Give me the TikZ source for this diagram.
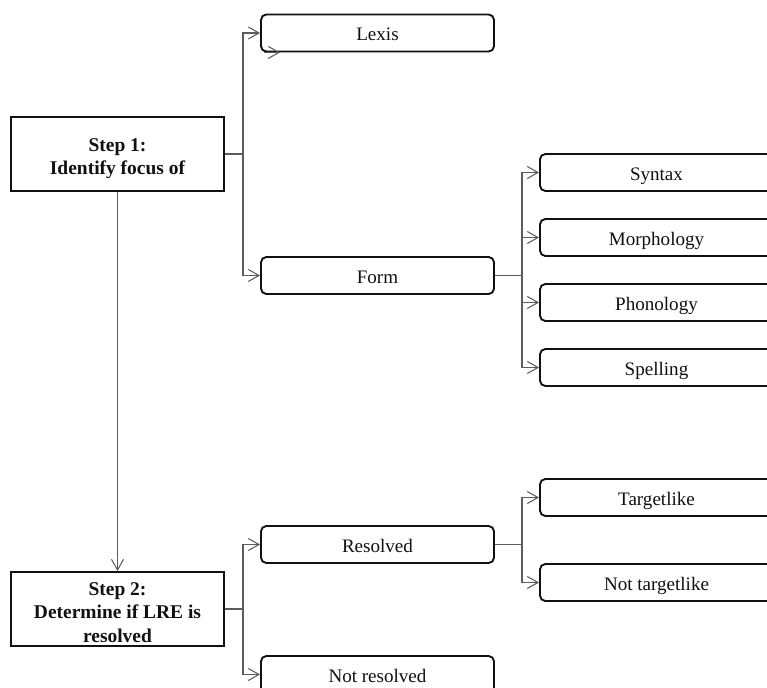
\documentclass[tikz,border=0pt]{standalone}
\usepackage{fontspec}
\setmainfont{Liberation Serif}
\usetikzlibrary{positioning, arrows.meta, calc}
\definecolor{ink}{HTML}{111111}
\definecolor{wire}{HTML}{5C5C5C}
\tikzset{
  every node/.style = {font=\fontsize{14.3}{17.5}\selectfont, text=ink},
  lrbase/.style  = {draw=ink, line width=1.4pt, fill=white, align=center, inner sep=0pt, text depth=0pt},
  lrstep/.style  = {lrbase, minimum width=159.75pt, minimum height=55.5pt, text height=#1,
                    font=\fontsize{14.6}{17.6}\selectfont\bfseries},
  lropt/.style   = {lrbase, rounded corners=4pt, minimum width=174.75pt, minimum height=27.75pt, text height=11.6pt},
  lrline/.style  = {draw=wire, line width=0.8pt},
  lrgo/.style    = {lrline, -{Straight Barb[length=8pt,width=9pt]}},
}

\begin{document}
\begin{tikzpicture}[x=0.75pt, y=-0.75pt]
\useasboundingbox (0,0) rectangle (767,688);
\clip (0,0) rectangle (767,688);

% steps
\node[lrstep=31.5pt] (step1) at (117.5,154) {Step 1:\\Identify focus of};
\node[lrstep=49.5pt] (step2) at (117.5,609) {Step 2:\\Determine if LRE is\\resolved};

% first level
\node[lropt] (lexis)    at (377.5,33)    {Lexis};
\node[lropt] (form)     at (377.5,275.5) {Form};
\node[lropt] (resolved) at (377.5,544.5) {Resolved};
\node[lropt] (notres)   at (377.5,674.5) {Not resolved};

% second level
\foreach \n/\y/\ttl in {syntax/172.5/Syntax, morph/237.5/Morphology,
                        phon/302.5/Phonology, spell/367.5/Spelling,
                        target/497.5/Targetlike, nottarget/582.5/Not targetlike}{
  \node[lropt] (\n) at (656.5,\y) {\ttl};
}

% junctions
\coordinate (j1) at (243,154);
\coordinate (j2) at (522,275.5);
\coordinate (j3) at (243,609);
\coordinate (j4) at (522,544.5);

\draw[lrgo] (step1) -- (step2);

\draw[lrline] (step1.east) -- (j1);
\draw[lrgo] (j1) |- (lexis.west);
\draw[lrgo] (j1) |- (form.west);
\draw[lrgo] ($(lexis.south west)+(4,0)$) -- ($(lexis.south west)+(20,0)$);

\draw[lrline] (form.east) -- (j2);
\foreach \n in {syntax, morph, phon, spell}{\draw[lrgo] (j2) |- (\n.west);}

\draw[lrline] (step2.east) -- (j3);
\draw[lrgo] (j3) |- (resolved.west);
\draw[lrgo] (j3) |- (notres.west);

\draw[lrline] (resolved.east) -- (j4);
\draw[lrgo] (j4) |- (target.west);
\draw[lrgo] (j4) |- (nottarget.west);
\end{tikzpicture}
\end{document}
